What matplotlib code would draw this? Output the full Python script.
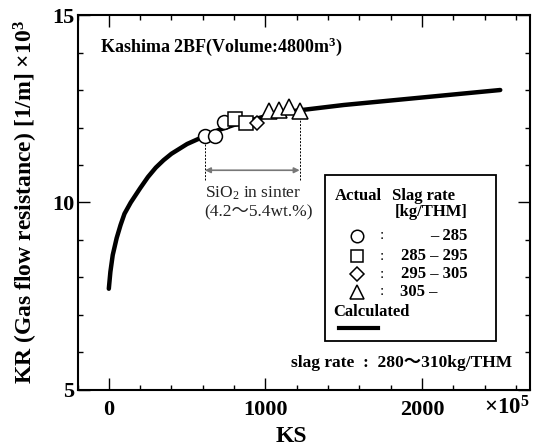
import matplotlib
matplotlib.use('Agg')
import matplotlib.pyplot as plt
from matplotlib.patches import Rectangle
from matplotlib.ticker import MultipleLocator

plt.rcParams['font.family'] = ['Liberation Serif', 'Noto Sans CJK JP', 'DejaVu Sans']
plt.rcParams['mathtext.fontset'] = 'custom'
plt.rcParams['mathtext.rm'] = 'Liberation Serif'
plt.rcParams['mathtext.bf'] = 'Liberation Serif:bold'
plt.rcParams['mathtext.it'] = 'Liberation Serif:italic'

# calculated curve (KS x1e5, KR x1e3)
calc_ks = [0, 10, 25, 50, 75, 100, 140, 200, 250, 300, 350, 400, 500, 612, 700, 800,
           1000, 1200, 1500, 2000, 2500]
calc_kr = [7.7, 8.15, 8.6, 9.05, 9.4, 9.7, 10.0, 10.38, 10.68, 10.93, 11.13, 11.3,
           11.56, 11.77, 11.93, 12.07, 12.3, 12.45, 12.6, 12.8, 13.0]

# actual data by slag rate class
circle_ks = [614, 676, 735]
circle_kr = [11.77, 11.77, 12.16]
square_ks = [806, 878]
square_kr = [12.22, 12.12]
diamond_ks = [948]
diamond_kr = [12.13]
triangle_ks = [1025, 1086, 1150, 1219]
triangle_kr = [12.45, 12.46, 12.56, 12.45]

sio2_range = [614, 1219]

fig = plt.figure(figsize=(5.36, 4.48), dpi=100)
ax = fig.add_axes([0.1446, 0.1295, 0.8442, 0.837])

ax.plot(calc_ks, calc_kr, color='black', lw=3.2, solid_capstyle='round',
        solid_joinstyle='round', zorder=2)

mk = dict(mfc='white', mec='black', mew=1.1, ls='none', zorder=3)
ax.plot(circle_ks, circle_kr, marker='o', ms=10, **mk)
ax.plot(square_ks, square_kr, marker='s', ms=10, **mk)
ax.plot(diamond_ks, diamond_kr, marker='D', ms=7.5, **mk)
ax.plot(triangle_ks, triangle_kr, marker='^', ms=12, **mk)

# SiO2 range annotation
ax.vlines(sio2_range[0], 10.6, 11.55, colors='black', lw=0.7, linestyles=(0, (2, 1.5)))
ax.vlines(sio2_range[1], 10.6, 12.25, colors='black', lw=0.7, linestyles=(0, (2, 1.5)))
ax.annotate('', xy=(sio2_range[0], 10.86), xytext=(sio2_range[1], 10.86),
            arrowprops=dict(arrowstyle='<|-|>', color='#777777', lw=1.2,
                            mutation_scale=8, shrinkA=0, shrinkB=0))
ax.text(612, 10.0, 'SiO$_2$ in sinter\n(4.2～5.4wt.%)', fontsize=12.5,
        ha='left', va='center', linespacing=1.15, color='#222222')

ax.text(-54, 14.15, 'Kashima 2BF(Volume:4800m$^\\mathbf{3}$)', fontsize=13,
        fontweight='bold', ha='left', va='center')
ax.text(2578, 5.72, 'slag rate  :  280～310kg/THM', fontsize=12.5,
        fontweight='bold', ha='right', va='center')

# legend box
T = ax.transAxes
ax.add_patch(Rectangle((0.547, 0.131), 0.377, 0.442, transform=T, fill=False,
                       lw=1.3, ec='black', zorder=4))
ax.text(0.569, 0.517, 'Actual', transform=T, fontsize=12, fontweight='bold', va='center')
ax.text(0.694, 0.517, 'Slag rate', transform=T, fontsize=12, fontweight='bold', va='center')
ax.text(0.863, 0.475, '[kg/THM]', transform=T, fontsize=12, fontweight='bold',
        va='center', ha='right')
rows = [('o', 9, '– 285', 'r'), ('s', 9, '285 – 295', 'r'),
        ('D', 7, '295 – 305', 'r'), ('^', 10, '305 –', 'l')]
ys = [0.411, 0.357, 0.309, 0.262]
for (m, s, lab, al), yy in zip(rows, ys):
    ax.plot([0.617], [yy], marker=m, ms=s, transform=T, mfc='white', mec='black',
            mew=1.1, ls='none', clip_on=False, zorder=5)
    ax.text(0.672, yy, ':', transform=T, fontsize=11, va='center', ha='center')
    if al == 'r':
        ax.text(0.862, yy, lab, transform=T, fontsize=12, fontweight='bold',
                va='center', ha='right')
    else:
        ax.text(0.713, yy, lab, transform=T, fontsize=12, fontweight='bold',
                va='center', ha='left')
ax.text(0.565, 0.208, 'Calculated', transform=T, fontsize=12, fontweight='bold', va='center')
ax.plot([0.577, 0.664], [0.165, 0.165], transform=T, color='black', lw=3)

ax.set_xlim(-200, 2690)
ax.set_ylim(5, 15)
ax.xaxis.set_major_locator(MultipleLocator(1000))
ax.xaxis.set_minor_locator(MultipleLocator(200))
ax.yaxis.set_major_locator(MultipleLocator(5))
ax.yaxis.set_minor_locator(MultipleLocator(1))
ax.tick_params(which='both', direction='in', top=True, right=True, width=1.0)
ax.tick_params(which='major', length=8.5, labelsize=16)
ax.tick_params(which='minor', length=3.6)
ax.tick_params(axis='x', which='major', pad=7)
ax.tick_params(axis='y', which='major', pad=2.5)
for lbl in ax.get_xticklabels() + ax.get_yticklabels():
    lbl.set_fontweight('bold')
for sp in ax.spines.values():
    sp.set_linewidth(1.5)

ax.set_xlabel('KS', fontsize=17, fontweight='bold')
ax.xaxis.set_label_coords(0.472, -0.095)
ax.set_ylabel('KR (Gas flow resistance) [1/m] ×10$^\\mathbf{3}$', fontsize=17,
              fontweight='bold')
ax.yaxis.set_label_coords(-0.083, 0.5)
ax.text(0.949, -0.048, '×10$^\\mathbf{5}$', transform=T, fontsize=16.5,
        fontweight='bold', ha='center', va='center')

fig.savefig('out.png', dpi=100)
